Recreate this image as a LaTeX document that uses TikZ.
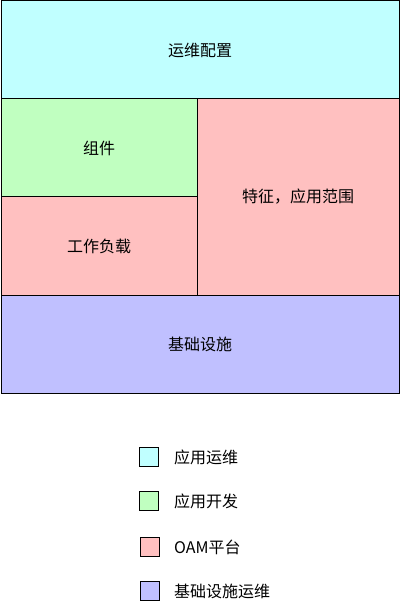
\documentclass[tikz,border=0pt]{standalone}
\usepackage{fontspec}
\setmainfont{Noto Sans CJK SC}
\definecolor{cyanc}{HTML}{C0FFFF}
\definecolor{greenc}{HTML}{C0FFC0}
\definecolor{pinkc}{HTML}{FFC0C0}
\definecolor{bluec}{HTML}{C0C0FF}
\begin{document}
\begin{tikzpicture}[x=1pt,y=-1pt,
  blk/.style={draw=black,line width=1pt},
  lbl/.style={font=\fontsize{16}{18}\selectfont,inner sep=0pt},
  sw/.style={draw=black,line width=1pt,minimum width=19pt,minimum height=19pt,inner sep=0pt}]
\useasboundingbox (0,0) rectangle (400,609);
\fill[white] (0,0) rectangle (400,609);
\filldraw[blk,fill=cyanc] (1,1) rectangle (399,99);
\filldraw[blk,fill=greenc] (1,99) rectangle (197,197);
\filldraw[blk,fill=pinkc] (1,197) rectangle (197,295);
\filldraw[blk,fill=pinkc] (197,99) rectangle (399,295);
\filldraw[blk,fill=bluec] (1,295) rectangle (399,393);
\node[lbl] (ops) at (200,50) {运维配置};
\node[lbl] (comp) at (99,148) {组件};
\node[lbl] (work) at (99,246) {工作负载};
\node[lbl] (trait) at (298,197) {特征，应用范围};
\node[lbl] (infra) at (200,344) {基础设施};
\node[sw,fill=cyanc] (s1) at (149,457) {};
\node[sw,fill=greenc] (s2) at (149,501) {};
\node[sw,fill=pinkc] (s3) at (149.5,547) {};
\node[sw,fill=bluec] (s4) at (149.5,591) {};
\node[lbl,anchor=west] (l1) at (174,457) {应用运维};
\node[lbl,anchor=west] (l2) at (174,501) {应用开发};
\node[lbl,anchor=west] (l3) at (174,547) {OAM平台};
\node[lbl,anchor=west] (l4) at (174,591) {基础设施运维};
\end{tikzpicture}
\end{document}
